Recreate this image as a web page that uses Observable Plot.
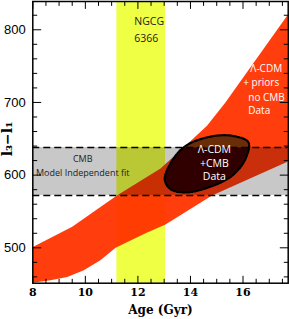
<!DOCTYPE html>
<html><head><meta charset="utf-8">
<script src="https://cdn.jsdelivr.net/npm/d3@7"></script>
<script src="https://cdn.jsdelivr.net/npm/@observablehq/plot@0.6"></script>
<style>body{margin:0;background:#fff}</style>
</head><body><div id="chart"></div>
<script>
// Red band (Λ-CDM + priors, no CMB data): upper and lower edges
const upperAge = [8, 9.5, 11.2, 12.86, 13.74, 14.63, 15.33, 16, 17.73];
const upperVal = [501, 529, 572, 609, 638, 668, 700, 734, 822];
const lowerAge = [8, 8.67, 9.31, 9.94, 10.57, 11.15, 12.29, 13.05, 14.82, 17.73];
const lowerVal = [452, 455.5, 460, 469, 483, 500, 520, 532, 572, 619];
// Λ-CDM + CMB data contour
const ellAge = [13.02, 13.43, 13.93, 14.95, 15.71, 16.21, 16.09, 15.58, 14.69, 13.81, 13.24];
const ellVal = [594.5, 626.6, 642.7, 654.1, 653.3, 645.0, 622.0, 599.0, 583.1, 576.2, 580.7];
// part of that contour lying above the CMB band (drawn brown)
const capAge = [13.79, 13.93, 14.95, 15.71, 16.21, 16.19];
const capVal = [638, 642.7, 654.1, 653.3, 645.0, 638];
// NGC 6366 age range and CMB model-independent fit
const ngcgAge = [11.2, 13.05];
const cmbBand = [572, 638];
// ticks
const xMajor = [8, 10, 12, 14, 16];
const xMinor = [8.5, 9, 9.5, 10.5, 11, 11.5, 12.5, 13, 13.5, 14.5, 15, 15.5, 16.5, 17, 17.5];
const yMajor = [500, 600, 700, 800];
const yMinor = [460, 480, 520, 540, 560, 580, 620, 640, 660, 680, 720, 740, 760, 780, 820];

const bandPoly = upperAge.map((a, i) => ({age: a, val: upperVal[i]}))
  .concat(lowerAge.map((a, i) => ({age: a, val: lowerVal[i]})).reverse());
const ell = ellAge.map((a, i) => ({age: a, val: ellVal[i]}));
const cap = capAge.map((a, i) => ({age: a, val: capVal[i]}));

const tickShape = {draw(ctx, l) { ctx.moveTo(0, 0); ctx.lineTo(0, -l); }};
const tk = (len) => ({length: len, anchor: "start", shape: tickShape, stroke: "black", strokeWidth: 1});

const plot = Plot.plot({
  width: 289, height: 319,
  marginLeft: 32.3, marginRight: 1.3, marginTop: 1, marginBottom: 36.3,
  style: {background: "white", color: "black", fontFamily: "DejaVu Sans"},
  x: {domain: [8, 17.72]},
  y: {domain: [451.3, 838.9]},
  marks: [
    Plot.rect([ngcgAge], {x1: d => d[0], x2: d => d[1], fill: "#eeff44"}),
    Plot.line(bandPoly, {x: "age", y: "val", fill: "#ff3300", fillOpacity: 0.95, stroke: "none", clip: true}),
    Plot.rect([cmbBand], {y1: d => d[0], y2: d => d[1], fill: "black", fillOpacity: 0.216}),
    Plot.line(ell, {x: "age", y: "val", curve: "catmull-rom-closed", fill: "#300000", stroke: "none"}),
    Plot.line(cap, {x: "age", y: "val", curve: "catmull-rom", fill: "#6b2c08", stroke: "none"}),
    Plot.line(ell, {x: "age", y: "val", curve: "catmull-rom-closed", fill: "none", stroke: "black", strokeWidth: 2.2, strokeDasharray: "1.6,1.4"}),
    Plot.ruleY(cmbBand, {stroke: "black", strokeWidth: 1.4, strokeDasharray: "7,4"}),
    Plot.text(["NGCG\n6366"], {x: [11.86], y: [802.5], textAnchor: "start", lineHeight: 1.6, fontSize: 10.5, fontFamily: "Open Sans", fill: "#222"}),
    Plot.text(["Λ-CDM", "+ priors", "no CMB", "Data"], {x: [16.28, 16.01, 16.2, 16.2], y: [746, 726.5, 707, 689], textAnchor: "start", fontSize: 10, fontFamily: "Open Sans", fill: "white"}),
    Plot.text(["Λ-CDM\n+CMB\nData"], {x: [14.91], y: [617.5], lineHeight: 1.27, fontSize: 10.5, fontFamily: "Open Sans", fill: "white"}),
    Plot.text(["CMB\nModel Independent fit"], {x: [9.9], y: [614], lineHeight: 1.55, fontSize: 9, fontFamily: "Open Sans", fill: "#222"}),
    Plot.frame({stroke: "black", strokeWidth: 1.5}),
    Plot.vectorX(xMajor, {frameAnchor: "bottom", rotate: 0, ...tk(7)}),
    Plot.vectorX(xMinor, {frameAnchor: "bottom", rotate: 0, ...tk(4)}),
    Plot.vectorX(xMajor, {frameAnchor: "top", rotate: 180, ...tk(7)}),
    Plot.vectorX(xMinor, {frameAnchor: "top", rotate: 180, ...tk(4)}),
    Plot.vectorY(yMajor, {frameAnchor: "left", rotate: 90, ...tk(8)}),
    Plot.vectorY(yMinor, {frameAnchor: "left", rotate: 90, ...tk(4)}),
    Plot.vectorY(yMajor, {frameAnchor: "right", rotate: 270, ...tk(8)}),
    Plot.vectorY(yMinor, {frameAnchor: "right", rotate: 270, ...tk(4)}),
    Plot.axisX(xMajor, {tickSize: 0, tickPadding: 5, fontSize: 11, fontWeight: "bold", fontFamily: "DejaVu Serif", label: null}),
    Plot.axisY(yMajor, {tickSize: 0, tickPadding: 7, fontSize: 13, fontFamily: "Liberation Sans", label: null}),
    Plot.text(["Age (Gyr)"], {frameAnchor: "bottom", dy: 27.3, lineAnchor: "middle", fontSize: 12, fontWeight: "bold", fontFamily: "DejaVu Serif"}),
    Plot.text(["l₃−l₁"], {frameAnchor: "left", dx: -25.6, dy: 14, rotate: -90, fontSize: 14, fontWeight: "bold", fontFamily: "DejaVu Serif"})
  ]
});

document.getElementById("chart").appendChild(plot);
</script>
</body></html>
